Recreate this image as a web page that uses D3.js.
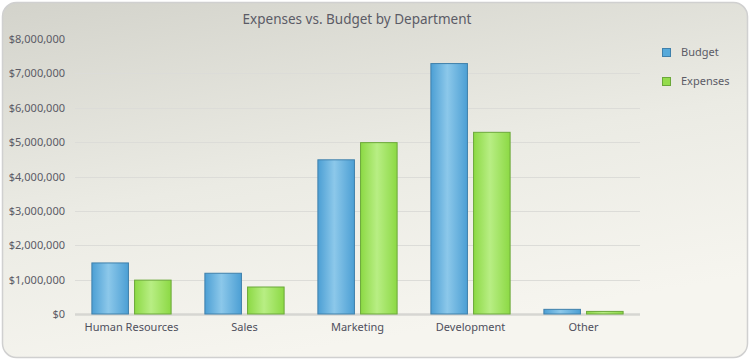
<!DOCTYPE html>
<html>
<head>
<meta charset="utf-8">
<script src="https://cdn.jsdelivr.net/npm/d3@7"></script>
<style>
body { margin: 0; background: #fff; }
text { font-family: "Noto Sans", "Open Sans", sans-serif; }
</style>
</head>
<body>
<div class="container"></div>
<script>
// Data
const departments = ["Human Resources", "Sales", "Marketing", "Development", "Other"];
const seriesNames = ["Budget", "Expenses"];
const budget = [1500000, 1200000, 4500000, 7300000, 150000];
const expenses = [1000000, 800000, 5000000, 5300000, 90000];
const yTicks = [0, 1000000, 2000000, 3000000, 4000000, 5000000, 6000000, 7000000, 8000000];

const w = 750;
const h = 360;
const margin = {top: 39, right: 110, bottom: 46, left: 75};

const svg = d3.select(".container")
  .append("svg")
  .attr("width", w)
  .attr("height", h);

const defs = svg.append("defs");

// panel background
const bg = defs.append("linearGradient")
  .attr("id", "bg").attr("x1", 0).attr("y1", 0).attr("x2", 0.35).attr("y2", 1);
bg.append("stop").attr("offset", "0%").attr("stop-color", "#d3d3cb");
bg.append("stop").attr("offset", "55%").attr("stop-color", "#ebebe4");
bg.append("stop").attr("offset", "100%").attr("stop-color", "#f6f5ef");

function barGrad(id, edge, mid) {
  const g = defs.append("linearGradient")
    .attr("id", id).attr("x1", 0).attr("y1", 0).attr("x2", 1).attr("y2", 0);
  g.append("stop").attr("offset", "0%").attr("stop-color", edge);
  g.append("stop").attr("offset", "45%").attr("stop-color", mid);
  g.append("stop").attr("offset", "100%").attr("stop-color", edge);
}
barGrad("gBudget", "#4c9fd4", "#8cc8ea");
barGrad("gExpenses", "#8cd944", "#b8ee84");

const fills = {Budget: "url(#gBudget)", Expenses: "url(#gExpenses)"};
const strokes = {Budget: "#3f80ab", Expenses: "#6ba83a"};
const swatch = {Budget: "#56a9da", Expenses: "#94dc4c"};

svg.append("rect")
  .attr("x", 2.5).attr("y", 2.5)
  .attr("width", w - 5).attr("height", h - 5)
  .attr("rx", 14).attr("ry", 14)
  .attr("fill", "url(#bg)")
  .attr("stroke", "#d0d0d0")
  .attr("stroke-width", 1.5);

// Scales
const x0 = d3.scaleBand()
  .domain(departments)
  .range([margin.left, w - margin.right])
  .paddingInner(0.29)
  .paddingOuter(0.145);

const x1 = d3.scaleBand()
  .domain(seriesNames)
  .range([0, x0.bandwidth()])
  .paddingInner(0.12);

const y = d3.scaleLinear()
  .domain([0, 8000000])
  .range([h - margin.bottom, margin.top]);

// gridlines
svg.append("g")
  .selectAll("line")
  .data(yTicks.slice(1, -1))
  .enter().append("line")
  .attr("x1", margin.left).attr("x2", w - margin.right)
  .attr("y1", d => Math.round(y(d)) + 0.5).attr("y2", d => Math.round(y(d)) + 0.5)
  .attr("stroke", "#dcdcd8");

// y axis
const yAxis = d3.axisLeft(y).tickValues(yTicks).tickSize(0).tickPadding(0)
  .tickFormat(d => "$" + d3.format(",")(d));
const gy = svg.append("g")
  .attr("transform", `translate(${margin.left - 10},0)`)
  .call(yAxis);
gy.select(".domain").remove();
gy.selectAll("text").attr("fill", "#5b5b66").style("font-size", "11px");

// baseline
svg.append("line")
  .attr("x1", margin.left).attr("x2", w - margin.right)
  .attr("y1", y(0) + 0.5).attr("y2", y(0) + 0.5)
  .attr("stroke", "#d6d6d2").attr("stroke-width", 2.5);

// x axis
const xAxis = d3.axisBottom(x0).tickSize(0).tickPadding(9);
const gx = svg.append("g")
  .attr("transform", `translate(0,${y(0)})`)
  .call(xAxis);
gx.select(".domain").remove();
gx.selectAll("text").attr("fill", "#4f4f5c").style("font-size", "11px");

// bars
const rows = departments.map((d, i) => ({dept: d, values: [
  {key: "Budget", value: budget[i]},
  {key: "Expenses", value: expenses[i]}
]}));

svg.append("g")
  .selectAll("g")
  .data(rows)
  .enter().append("g")
  .attr("transform", d => `translate(${x0(d.dept)},0)`)
  .selectAll("rect")
  .data(d => d.values)
  .enter().append("rect")
  .attr("x", d => x1(d.key) + 0.5)
  .attr("y", d => y(d.value) + 0.5)
  .attr("width", x1.bandwidth() - 1)
  .attr("height", d => y(0) - y(d.value) - 0.5)
  .attr("fill", d => fills[d.key])
  .attr("stroke", d => strokes[d.key])
  .attr("stroke-width", 1);

// title
svg.append("text")
  .attr("x", 357).attr("y", 24)
  .attr("text-anchor", "middle")
  .attr("fill", "#5b5b66")
  .style("font-size", "13.5px")
  .text("Expenses vs. Budget by Department");

// legend
const legend = svg.append("g").attr("id", "legend");
const item = legend.selectAll("g")
  .data(seriesNames)
  .enter().append("g")
  .attr("transform", (d, i) => `translate(662,${48 + i * 29})`);
item.append("rect")
  .attr("x", 0.5).attr("y", 0.5)
  .attr("width", 8).attr("height", 8)
  .attr("fill", d => swatch[d])
  .attr("stroke", d => strokes[d]);
item.append("text")
  .attr("x", 19).attr("y", 8)
  .attr("fill", "#5b5b66")
  .style("font-size", "11px")
  .text(d => d);
</script>
</body>
</html>
